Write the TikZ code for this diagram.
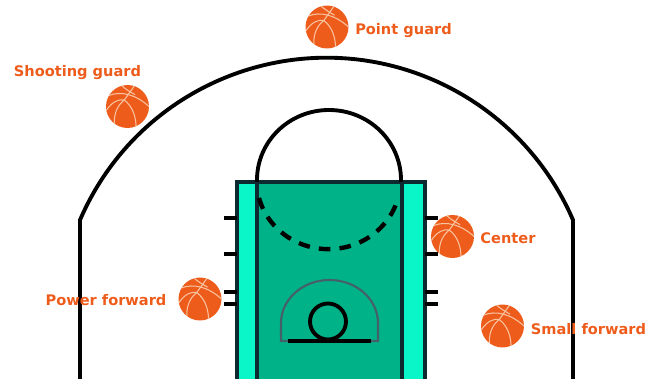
\documentclass[tikz,border=0pt]{standalone}
\usepackage{fontspec}
\setmainfont{DejaVu Sans}
\usepackage{xcolor}
\definecolor{ballorange}{HTML}{EE5C1C}
\definecolor{seamtone}{HTML}{F8C4A0}
\definecolor{keydark}{HTML}{00B288}
\definecolor{keylight}{HTML}{0AF5C8}
\definecolor{keyline}{HTML}{0C2A30}
\definecolor{archgray}{HTML}{46606A}
\newcommand{\ballseams}{%
  \begin{scope}[shift={(path picture bounding box.center)},x=.43cm,y=.43cm]
    \draw[seam] (-.9,.5) .. controls (-.3,.75) and (.4,.55) .. (1,0);
    \draw[seam] (-1,-.2) .. controls (-.7,.25) and (-.4,.35) .. (-.15,.3);
    \draw[seam] (-.3,1) .. controls (-.1,.8) and (.1,.7) .. (.35,.55);
    \draw[seam] (.35,1) -- (-.15,.3);
    \draw[seam] (-.15,.3) .. controls (.25,0) and (.4,-.5) .. (.4,-1);
    \draw[seam] (-.15,.3) .. controls (-.55,0) and (-.65,-.5) .. (-.6,-.85);
  \end{scope}}

\begin{document}
\begin{tikzpicture}[x=.02cm,y=.02cm,
  seam/.style={draw=seamtone, line width=.6pt},
  ball/.style={circle, fill=ballorange, minimum size=.86cm, inner sep=0pt,
               path picture={\ballseams}},
  role/.style={font=\bfseries\fontsize{8.3}{9}\selectfont, text=ballorange, inner sep=0pt},
  court/.style={line width=2.2pt, draw=black},
  tick/.style={line width=1.9pt, draw=black}]
\useasboundingbox (0,0) rectangle (660,379);
% court outline
\draw[court] (80,-3) -- (80,159) arc[start angle=156.7, end angle=23.3, radius=268.4] -- (573,-3);
% key
\fill[keylight] (237,-3) rectangle (425,197);
\fill[keydark] (257,-3) rectangle (402,197);
\draw[line width=1.9pt, draw=keyline] (237,-3) -- (237,197) -- (425,197) -- (425,-3);
\draw[line width=1.9pt, draw=keyline] (257,-3) -- (257,197);
\draw[line width=1.9pt, draw=keyline] (402,-3) -- (402,197);
% ticks
\foreach \py in {161,125,87,75} {
  \draw[tick] (224,\py) -- (237,\py);
  \draw[tick] (425,\py) -- (438,\py);
}
% free throw circle
\draw[court] (257,197) -- (257,199) arc[start angle=180, end angle=0, x radius=72, y radius=70] -- (401,197);
\draw[court, line width=2.5pt, dash pattern=on 6.6pt off 5.2pt] (259,181) arc[start angle=195, end angle=345, x radius=72, y radius=69];
% hoop
\draw[line width=1.2pt, draw=archgray] (281,38) -- (281,56) arc[start angle=180, end angle=0, x radius=48.5, y radius=43] -- (378,38) -- cycle;
\draw[court] (288,38) -- (371,38);
\draw[court] (328,57.5) circle[radius=18];
% players
\node[ball] (pgball) at (327,352) {};
\node[role] (pglabel) at (403.5,348.5) {Point guard};
\node[ball] (sgball) at (127.5,272.5) {};
\node[role] (sglabel) at (77.5,306.5) {Shooting guard};
\node[ball] (cball) at (452.5,142.5) {};
\node[role] (clabel) at (508,141) {Center};
\node[ball] (pfball) at (200,80) {};
\node[role] (pflabel) at (106,78.5) {Power forward};
\node[ball] (sfball) at (502.5,53) {};
\node[role] (sflabel) at (588.5,50) {Small forward};
\end{tikzpicture}
\end{document}
